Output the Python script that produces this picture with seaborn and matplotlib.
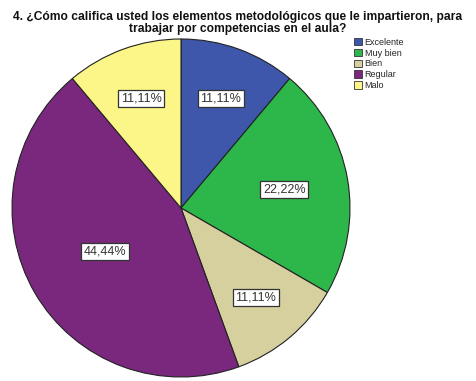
import matplotlib
matplotlib.use("Agg")
import matplotlib.pyplot as plt
import seaborn as sns
import numpy as np
from matplotlib.patches import Patch

sns.set_style("white")
plt.rcParams['font.family'] = ['Liberation Sans', 'DejaVu Sans']

categories = ["Excelente", "Muy bien", "Bien", "Regular", "Malo"]
values = [11.11, 22.22, 11.11, 44.44, 11.11]
labels = ["11,11%", "22,22%", "11,11%", "44,44%", "11,11%"]
colors = sns.color_palette(["#3E57AB", "#2DB74A", "#D6CF9E", "#79287E", "#FBF687"])
label_dist = [0.69, 0.62, 0.69, 0.52, 0.69]

fig = plt.figure(figsize=(4.76, 3.81), dpi=100)
W, H = 476, 381
cx, cy, r = 181, 208, 169
ax = fig.add_axes([(cx - r) / W, (H - cy - r) / H, 2 * r / W, 2 * r / H])
wedges, _ = ax.pie(values, colors=colors, startangle=90, counterclock=False,
                   wedgeprops=dict(edgecolor="#222222", linewidth=0.8))
ax.set_xlim(-1, 1)
ax.set_ylim(-1, 1)
ax.set_aspect("equal")
ax.axis("off")

for w, lab, d in zip(wedges, labels, label_dist):
    ang = np.deg2rad((w.theta1 + w.theta2) / 2)
    ax.text(d * np.cos(ang), d * np.sin(ang), lab, ha="center", va="center",
            fontsize=9, color="#333333",
            bbox=dict(boxstyle="square,pad=0.2", fc="white", ec="#333333", lw=0.9))

fig.text(0.5, 1 - 23 / H, "4. ¿Cómo califica usted los elementos metodológicos que le impartieron, para\ntrabajar por competencias en el aula?",
         ha="center", va="center", fontsize=8.65, fontweight="bold", linespacing=1.1,
         color="#111111")

handles = [Patch(facecolor=c, edgecolor="#333333", linewidth=0.6) for c in colors]
fig.legend(handles, categories, loc="upper left", bbox_to_anchor=(352 / W, 1 - 36 / H),
           frameon=False, fontsize=6.5, handlelength=0.9, handleheight=0.9,
           handletextpad=0.3, labelspacing=0.2, borderaxespad=0, borderpad=0.2)

fig.savefig("out.png", dpi=100)
